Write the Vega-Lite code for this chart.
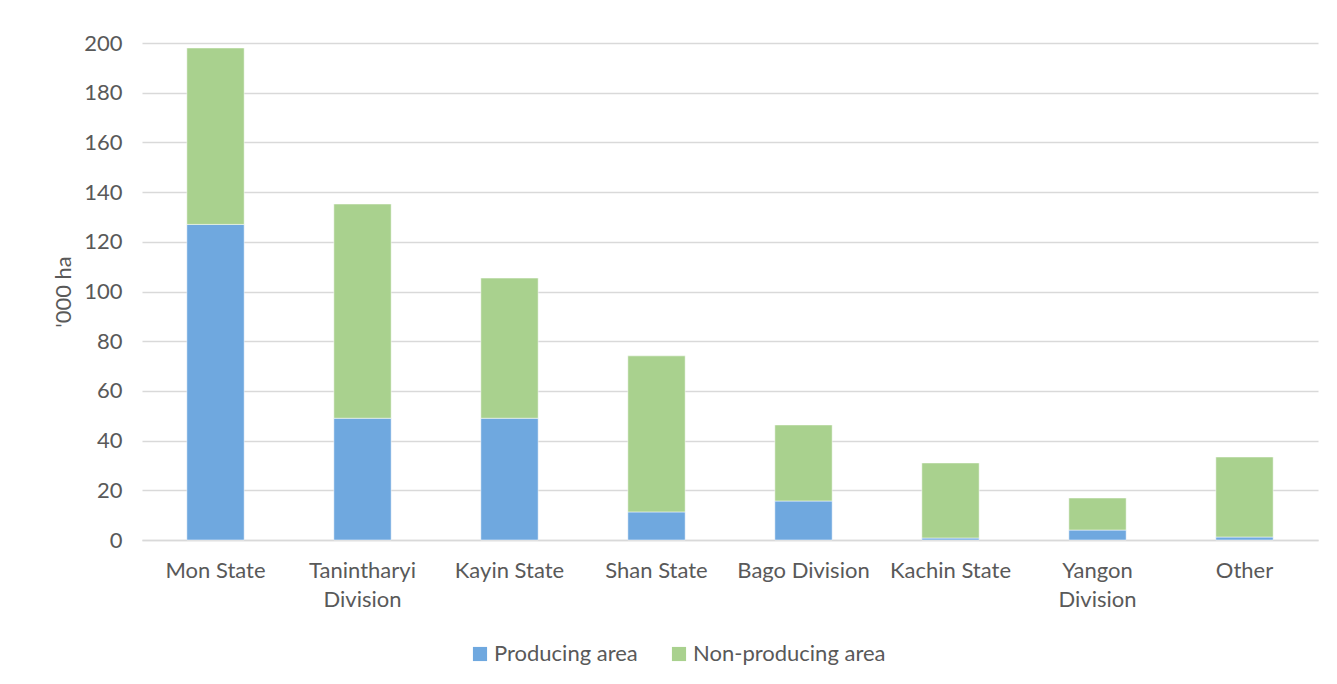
{
  "$schema": "https://vega.github.io/schema/vega-lite/v6.json",
  "autosize": "none",
  "width": 1176,
  "height": 497,
  "padding": {"left": 142, "top": 43, "right": 19, "bottom": 144},
  "background": "white",
  "data": {
    "values": [
      {"region": "Mon State", "type": "Producing area", "o": 1, "value": 127},
      {"region": "Mon State", "type": "Non-producing area", "o": 2, "value": 71},
      {"region": "Tanintharyi Division", "type": "Producing area", "o": 1, "value": 49},
      {"region": "Tanintharyi Division", "type": "Non-producing area", "o": 2, "value": 86.2},
      {"region": "Kayin State", "type": "Producing area", "o": 1, "value": 49},
      {"region": "Kayin State", "type": "Non-producing area", "o": 2, "value": 56.4},
      {"region": "Shan State", "type": "Producing area", "o": 1, "value": 11.3},
      {"region": "Shan State", "type": "Non-producing area", "o": 2, "value": 62.8},
      {"region": "Bago Division", "type": "Producing area", "o": 1, "value": 15.7},
      {"region": "Bago Division", "type": "Non-producing area", "o": 2, "value": 30.6},
      {"region": "Kachin State", "type": "Producing area", "o": 1, "value": 0.8},
      {"region": "Kachin State", "type": "Non-producing area", "o": 2, "value": 30.2},
      {"region": "Yangon Division", "type": "Producing area", "o": 1, "value": 4},
      {"region": "Yangon Division", "type": "Non-producing area", "o": 2, "value": 12.9},
      {"region": "Other", "type": "Producing area", "o": 1, "value": 1.2},
      {"region": "Other", "type": "Non-producing area", "o": 2, "value": 32.2}
    ]
  },
  "mark": {"type": "bar", "stroke": "white", "strokeWidth": 0.5},
  "encoding": {
    "x": {
      "field": "region",
      "type": "nominal",
      "sort": null,
      "scale": {"paddingInner": 0.61, "paddingOuter": 0.305},
      "axis": {
        "title": null,
        "labelAngle": 0,
        "ticks": false,
        "domain": true,
        "domainColor": "#D9D9D9",
        "domainWidth": 1.5,
        "labelPadding": 20,
        "labelLineHeight": 29,
        "labelExpr": "datum.label == 'Tanintharyi Division' ? ['Tanintharyi', 'Division'] : datum.label == 'Yangon Division' ? ['Yangon', 'Division'] : datum.label"
      }
    },
    "y": {
      "field": "value",
      "type": "quantitative",
      "stack": "zero",
      "scale": {"domain": [0, 200], "nice": false},
      "axis": {
        "title": "'000 ha",
        "values": [0, 20, 40, 60, 80, 100, 120, 140, 160, 180, 200],
        "ticks": false,
        "domain": false,
        "labelPadding": 20,
        "titlePadding": 8,
        "gridColor": "#D9D9D9",
        "gridWidth": 1.5
      }
    },
    "color": {
      "field": "type",
      "type": "nominal",
      "scale": {"domain": ["Producing area", "Non-producing area"], "range": ["#6FA8DF", "#A9D18E"]},
      "legend": {
        "title": null,
        "orient": "none",
        "direction": "horizontal",
        "legendX": 327,
        "legendY": 600,
        "symbolType": "square",
        "symbolSize": 200,
        "symbolStrokeWidth": 0,
        "columnPadding": 30,
        "labelOffset": 3,
        "labelLimit": 400
      }
    },
    "order": {"field": "o", "type": "quantitative"}
  },
  "config": {
    "font": "Lato",
    "view": {"stroke": null},
    "axis": {
      "labelFont": "Lato",
      "labelFontSize": 22,
      "labelColor": "#595959",
      "titleFont": "Lato",
      "titleFontSize": 22,
      "titleFontWeight": "normal",
      "titleColor": "#595959"
    },
    "legend": {
      "labelFont": "Lato",
      "labelFontSize": 22,
      "labelColor": "#595959"
    }
  }
}
